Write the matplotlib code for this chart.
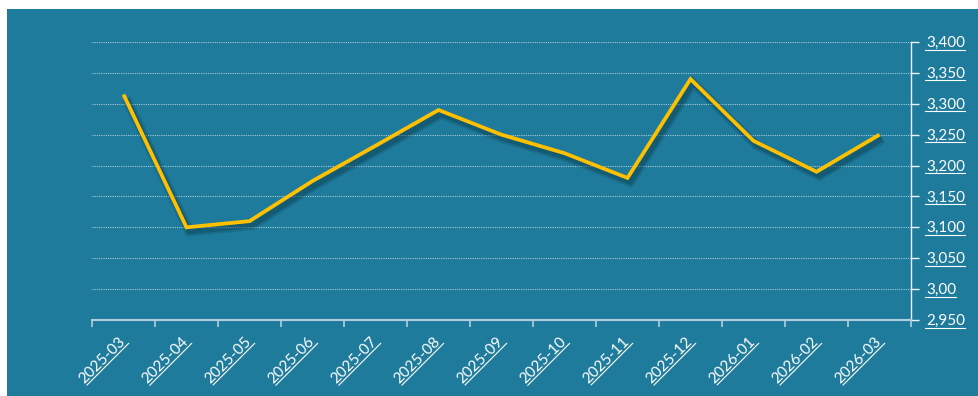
import matplotlib
matplotlib.use("Agg")
import matplotlib.pyplot as plt
import matplotlib.patheffects as pe
from matplotlib.lines import Line2D
from matplotlib.patches import Rectangle
from matplotlib.textpath import TextPath
from matplotlib.font_manager import FontProperties
import numpy as np

# data
months = ["2025-03", "2025-04", "2025-05", "2025-06", "2025-07", "2025-08", "2025-09",
          "2025-10", "2025-11", "2025-12", "2026-01", "2026-02", "2026-03"]
prices = [3315, 3100, 3110, 3175, 3232, 3290, 3250, 3220, 3180, 3340, 3240, 3190, 3250]
y_ticks = [2950, 3000, 3050, 3100, 3150, 3200, 3250, 3300, 3350, 3400]
y_labels = ["2,950", "3,00", "3,050", "3,100", "3,150", "3,200", "3,250", "3,300", "3,350", "3,400"]

W, H = 979, 396
BG = "#1f7b9b"
fp = FontProperties(family="Lato", size=11)

fig = plt.figure(figsize=(W / 100, H / 100), dpi=100, facecolor="white")
fig.patches.append(Rectangle((7 / W, 0), 1, 1 - 9 / H, transform=fig.transFigure,
                             facecolor=BG, edgecolor="none", zorder=-1))
ax = fig.add_axes([92 / W, 1 - 320 / H, (911 - 92) / W, (320 - 42) / H])
ax.set_facecolor(BG)

x = np.arange(len(months))
ax.plot(x, prices, color="#ffc000", lw=2.7, solid_joinstyle="miter", solid_capstyle="butt",
        zorder=5,
        path_effects=[pe.SimpleLineShadow(offset=(2, -3), shadow_color="#06303f", alpha=0.18, linewidth=7),
                      pe.SimpleLineShadow(offset=(2, -3), shadow_color="#06303f", alpha=0.3, linewidth=4),
                      pe.Normal()])

ax.set_xlim(-0.5, len(months) - 0.5)
ax.set_ylim(2950, 3400)
ax.set_xticks(np.arange(-0.5, len(months), 1))
ax.set_xticklabels([])
ax.yaxis.tick_right()
ax.set_yticks(y_ticks)
ax.set_yticklabels([])
ax.tick_params(axis="x", length=5, width=1.2, color="#b0cfdc", direction="out")
ax.tick_params(axis="y", length=6, width=1, color="#e8f1f5", direction="out")
ax.grid(axis="y", color="#bcd8e3", lw=0.8, linestyle=(0, (1, 1)), alpha=0.85)
ax.set_axisbelow(True)
for s in ["top", "left"]:
    ax.spines[s].set_visible(False)
ax.spines["right"].set_color("#e8f1f5")
ax.spines["right"].set_linewidth(1)
ax.spines["bottom"].set_color("#b0cfdc")
ax.spines["bottom"].set_linewidth(1.5)


def text_w(s):
    return TextPath((0, 0), s, prop=fp).get_extents().width * 100 / 72


def underline(xs, ys):
    fig.add_artist(Line2D(np.array(xs) / W, np.array(ys) / H, transform=fig.transFigure,
                          color="white", lw=0.8))


c = s = np.sqrt(0.5)
for i, m in enumerate(months):
    px, py = ax.transData.transform((i, 2950))
    ox, oy = px + 3, py - 22
    fig.text(ox / W, oy / H, m, rotation=45, rotation_mode="anchor", ha="right",
             va="baseline", color="white", fontproperties=fp)
    w = text_w(m)
    pts = [(-w - 1, -2.5), (0.5, -2.5)]
    underline([ox + u * c - v * s for u, v in pts], [oy + u * s + v * c for u, v in pts])

for t, lab in zip(y_ticks, y_labels):
    px, py = ax.transData.transform((len(months) - 0.5, t))
    ox, oy = 926, py - 5
    fig.text(ox / W, oy / H, lab, ha="left", va="baseline", color="white", fontproperties=fp)
    w = text_w(lab)
    underline([ox - 0.5, ox + w + 1], [oy - 2.5, oy - 2.5])

fig.savefig("out.png", dpi=100, facecolor="white")
